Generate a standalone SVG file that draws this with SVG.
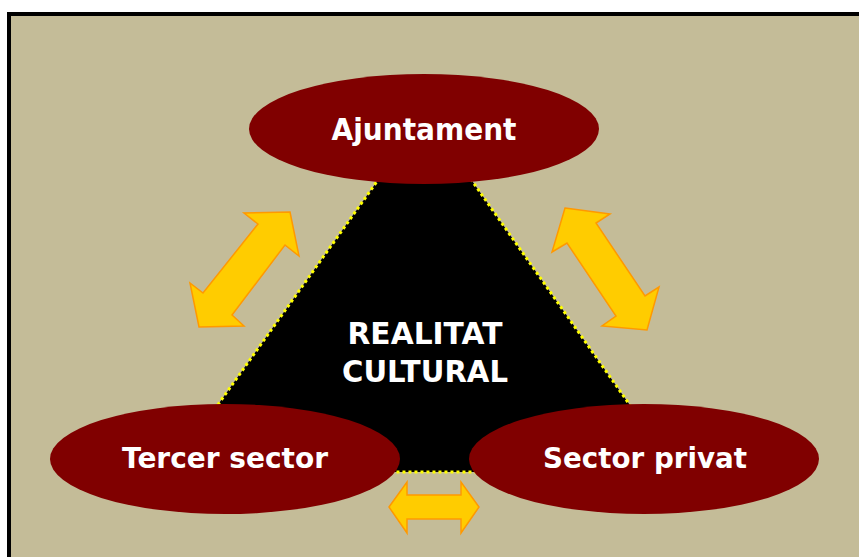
<svg xmlns="http://www.w3.org/2000/svg" width="859" height="557" viewBox="0 0 859 557">
<style>
.bg{fill:#C4BC98;stroke:#000;stroke-width:4}
.node{fill:#800000}
.lbl{font-family:"DejaVu Sans",Verdana,sans-serif;font-weight:bold;fill:#fff;text-anchor:middle}
.arr{fill:#FFCC00;stroke:#FF9900;stroke-width:1.5;stroke-linejoin:miter}
</style>
<rect x="0" y="0" width="859" height="557" fill="#fff"/>
<rect class="bg" x="9" y="14" width="860" height="560"/>
<g id="triangle">
<polygon points="425,114 170,472 677,472" fill="#000"/>
<polygon points="425,114 170,472 677,472" fill="none" stroke="#FFFF00" stroke-width="3" stroke-dasharray="3,3"/>
<text class="lbl" x="425" y="344" font-size="30" textLength="155" lengthAdjust="spacingAndGlyphs">REALITAT</text>
<text class="lbl" x="425" y="382" font-size="30" textLength="166" lengthAdjust="spacingAndGlyphs">CULTURAL</text>
</g>
<g id="ajuntament">
<ellipse class="node" cx="424" cy="129" rx="175" ry="55"/>
<text class="lbl" x="424" y="140" font-size="30" textLength="185" lengthAdjust="spacingAndGlyphs">Ajuntament</text>
</g>
<g id="tercer-sector">
<ellipse class="node" cx="225" cy="459" rx="175" ry="55"/>
<text class="lbl" x="225" y="468" font-size="29" textLength="206" lengthAdjust="spacingAndGlyphs">Tercer sector</text>
</g>
<g id="sector-privat">
<ellipse class="node" cx="644" cy="459" rx="175" ry="55"/>
<text class="lbl" x="645" y="468" font-size="29" textLength="204" lengthAdjust="spacingAndGlyphs">Sector privat</text>
</g>
<g id="connectors">
<polygon class="arr" points="290,212 299,256 285,245 232,315 244,326 199,327 190,283 203,293 258,224 244,213"/>
<polygon class="arr" points="565,208 610,214 596,223 645,296 659,287 647,330 602,326 616,316 567,243 552,252"/>
<polygon class="arr" points="389,507 407,482 407,495 461,495 461,482 479,507 461,533 461,519 407,519 407,533"/>
</g>
</svg>
